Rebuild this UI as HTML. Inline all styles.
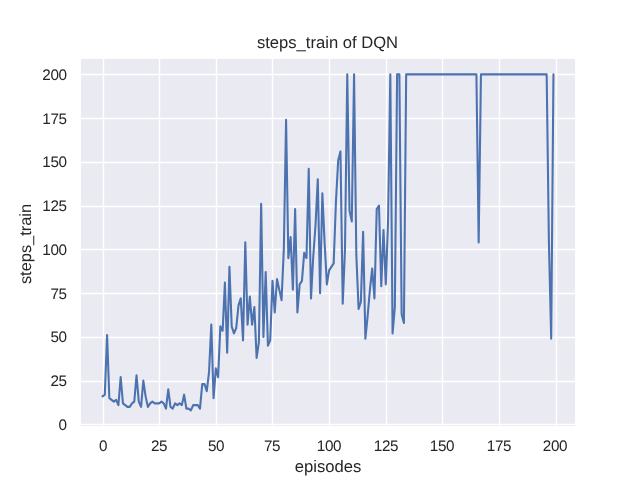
<!DOCTYPE html>
<html><head><meta charset="utf-8"><style>
html,body{margin:0;padding:0;background:#fff;}
body{-webkit-font-smoothing:antialiased;text-rendering:geometricPrecision;width:640px;height:480px;position:relative;overflow:hidden;font-family:"Liberation Sans",sans-serif;color:#262626;}
svg{position:absolute;left:0;top:0;}
.xt,.yt,.title,.xl,.yl span{will-change:transform;}
.xt,.yt{letter-spacing:-0.4px;}
.xt{position:absolute;top:437.8px;width:60px;text-align:center;font-size:15.28px;line-height:18px;}
.yt{position:absolute;left:0;width:66.6px;text-align:right;font-size:15.28px;line-height:18px;}
.title{position:absolute;left:80px;width:495px;top:33.2px;text-align:center;font-size:16.6px;line-height:20px;}
.xl{position:absolute;left:80px;width:496px;top:456.5px;text-align:center;font-size:16.67px;line-height:20px;}
.yl{position:absolute;left:26.3px;top:244.1px;width:0;height:0;}
.yl span{position:absolute;display:block;width:200px;left:-100px;top:-10px;text-align:center;font-size:16.4px;line-height:20px;transform:rotate(-90deg);white-space:nowrap;}
</style></head><body>
<svg width="640" height="480" viewBox="0 0 640 480">
<rect x="80.87" y="58.87" width="494.26" height="367.26" fill="#eaeaf2"/>
<g stroke="#ffffff" stroke-width="1.39" stroke-linecap="butt"><line x1="103.5" y1="57.6" x2="103.5" y2="427.2"/><line x1="159.5" y1="57.6" x2="159.5" y2="427.2"/><line x1="216.5" y1="57.6" x2="216.5" y2="427.2"/><line x1="272.5" y1="57.6" x2="272.5" y2="427.2"/><line x1="329.5" y1="57.6" x2="329.5" y2="427.2"/><line x1="386.5" y1="57.6" x2="386.5" y2="427.2"/><line x1="442.5" y1="57.6" x2="442.5" y2="427.2"/><line x1="499.5" y1="57.6" x2="499.5" y2="427.2"/><line x1="556.5" y1="57.6" x2="556.5" y2="427.2"/><line x1="80.0" y1="424.5" x2="576.0" y2="424.5"/><line x1="80.0" y1="381.5" x2="576.0" y2="381.5"/><line x1="80.0" y1="337.5" x2="576.0" y2="337.5"/><line x1="80.0" y1="293.5" x2="576.0" y2="293.5"/><line x1="80.0" y1="249.5" x2="576.0" y2="249.5"/><line x1="80.0" y1="206.5" x2="576.0" y2="206.5"/><line x1="80.0" y1="162.5" x2="576.0" y2="162.5"/><line x1="80.0" y1="118.5" x2="576.0" y2="118.5"/><line x1="80.0" y1="74.5" x2="576.0" y2="74.5"/></g>
<clipPath id="c"><rect x="80.0" y="57.6" width="496.0" height="369.59999999999997"/></clipPath>
<polyline clip-path="url(#c)" fill="none" stroke="#4c72b0" stroke-width="2.08" stroke-linejoin="round" stroke-linecap="round" points="102.55,396.40 104.81,394.65 107.08,335.15 109.34,398.15 111.61,399.90 113.87,401.65 116.14,399.90 118.41,405.15 120.67,377.15 122.94,403.40 125.20,405.15 127.47,406.90 129.74,406.90 132.00,403.40 134.27,401.65 136.53,375.40 138.80,401.65 141.07,406.90 143.33,380.65 145.60,396.40 147.86,406.90 150.13,403.40 152.39,401.65 154.66,403.40 156.93,403.40 159.19,403.40 161.46,401.65 163.72,403.40 165.99,408.65 168.26,389.40 170.52,406.90 172.79,408.65 175.05,403.40 177.32,405.15 179.59,403.40 181.85,405.15 184.12,394.65 186.38,408.65 188.65,408.65 190.91,410.40 193.18,405.15 195.45,405.15 197.71,405.15 199.98,408.65 202.24,384.15 204.51,384.15 206.78,391.15 209.04,371.90 211.31,324.65 213.57,398.15 215.84,368.40 218.11,377.15 220.37,326.40 222.64,330.77 224.90,282.65 227.17,352.65 229.43,266.90 231.70,326.40 233.97,333.40 236.23,328.15 238.50,305.40 240.76,298.40 243.03,340.40 245.30,242.40 247.56,324.65 249.83,296.65 252.09,324.65 254.36,307.15 256.62,357.90 258.89,342.15 261.16,203.90 263.42,336.90 265.69,272.15 267.95,345.65 270.22,340.40 272.49,280.90 274.75,312.40 277.02,279.15 279.28,289.65 281.55,300.15 283.82,249.40 286.08,119.90 288.35,258.15 290.61,237.15 292.88,289.65 295.14,209.15 297.41,312.40 299.68,284.40 301.94,280.90 304.21,252.90 306.47,258.15 308.74,168.90 311.01,298.40 313.27,256.40 315.54,224.90 317.80,179.40 320.07,293.15 322.34,193.40 324.60,242.40 326.87,284.40 329.13,270.40 331.40,266.90 333.66,263.40 335.93,202.15 338.20,160.15 340.46,151.40 342.73,303.65 344.99,249.40 347.26,74.40 349.53,210.90 351.79,221.40 354.06,74.40 356.32,254.65 358.59,308.90 360.86,301.90 363.12,231.90 365.39,338.65 367.65,315.90 369.92,289.65 372.18,268.65 374.45,298.40 376.72,209.15 378.98,205.65 381.25,286.15 383.51,230.15 385.78,284.40 388.05,221.40 390.31,74.40 392.58,333.40 394.84,307.15 397.11,74.40 399.38,74.40 401.64,314.15 403.91,322.90 406.17,74.40 408.44,74.40 410.70,74.40 412.97,74.40 415.24,74.40 417.50,74.40 419.77,74.40 422.03,74.40 424.30,74.40 426.57,74.40 428.83,74.40 431.10,74.40 433.36,74.40 435.63,74.40 437.89,74.40 440.16,74.40 442.43,74.40 444.69,74.40 446.96,74.40 449.22,74.40 451.49,74.40 453.76,74.40 456.02,74.40 458.29,74.40 460.55,74.40 462.82,74.40 465.09,74.40 467.35,74.40 469.62,74.40 471.88,74.40 474.15,74.40 476.41,74.40 478.68,242.40 480.95,74.40 483.21,74.40 485.48,74.40 487.74,74.40 490.01,74.40 492.28,74.40 494.54,74.40 496.81,74.40 499.07,74.40 501.34,74.40 503.61,74.40 505.87,74.40 508.14,74.40 510.40,74.40 512.67,74.40 514.93,74.40 517.20,74.40 519.47,74.40 521.73,74.40 524.00,74.40 526.26,74.40 528.53,74.40 530.80,74.40 533.06,74.40 535.33,74.40 537.59,74.40 539.86,74.40 542.13,74.40 544.39,74.40 546.66,74.40 548.92,242.40 551.19,338.65 553.45,74.40"/>
</svg>
<div class="xt" style="left:72.55px">0</div><div class="xt" style="left:129.19px">25</div><div class="xt" style="left:185.84px">50</div><div class="xt" style="left:242.49px">75</div><div class="xt" style="left:299.13px">100</div><div class="xt" style="left:355.78px">125</div><div class="xt" style="left:412.43px">150</div><div class="xt" style="left:469.07px">175</div><div class="xt" style="left:524.92px">200</div><div class="yt" style="top:416.80px">0</div><div class="yt" style="top:373.05px">25</div><div class="yt" style="top:329.30px">50</div><div class="yt" style="top:285.55px">75</div><div class="yt" style="top:241.80px">100</div><div class="yt" style="top:198.05px">125</div><div class="yt" style="top:154.30px">150</div><div class="yt" style="top:110.55px">175</div><div class="yt" style="top:66.80px">200</div>
<div class="title">steps_train of DQN</div>
<div class="xl">episodes</div>
<div class="yl"><span>steps_train</span></div>
</body></html>
